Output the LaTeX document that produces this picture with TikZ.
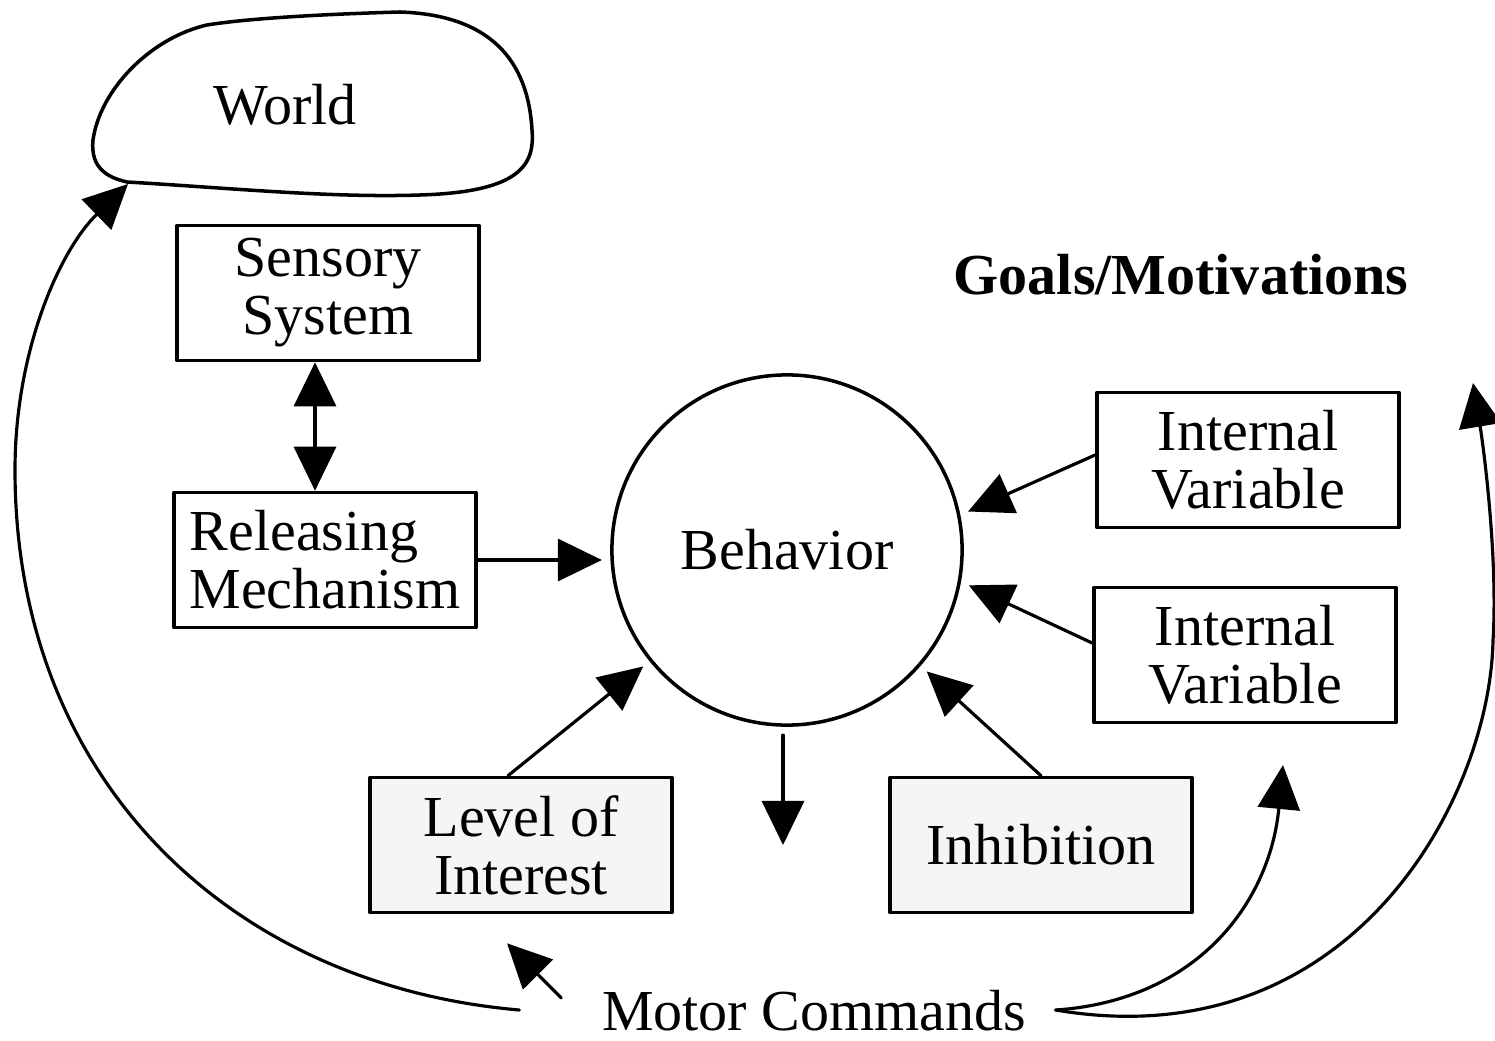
\documentclass[tikz,border=0pt]{standalone}
\usepackage{fontspec}
\setmainfont{Liberation Serif}
\usetikzlibrary{arrows.meta}
\definecolor{wqwqwq}{rgb}{0.96,0.96,0.96}

\begin{document}
\begin{tikzpicture}[x=0.01cm,y=-0.01cm,line cap=round,line join=round,>={Triangle[length=4.4mm,width=4.2mm]},
every node/.style={font=\fontsize{16.5}{16.5}\selectfont},
box/.style={draw,line width=1pt,minimum width=3.02cm,minimum height=1.35cm,inner sep=0pt,align=center},
link/.style={->,line width=0.9pt}]
\useasboundingbox (0,0) rectangle (1495,1040);
\draw[line width=1pt] (127,182) .. controls (230,188) and (330,198) .. (420,195) .. controls (520,192) and (535,165) .. (532,130) .. controls (528,60) and (490,15) .. (400,12) .. controls (330,14) and (250,18) .. (207,25) .. controls (150,38) and (100,90) .. (93,140) .. controls (90,170) and (110,178) .. (127,182) -- cycle;
\node (world) at (285,105) {World};
\coordinate (worldtip) at (128,184);
\node[box] (sensory) at (328,293) {Sensory\\System};
\node[box,align=left] (releasing) at (325,560) {Releasing\\Mechanism};
\node[draw,circle,line width=1pt,minimum size=3.5cm,outer sep=0.1cm] (behavior) at (787,550) {Behavior};
\node[box] (iv1) at (1248,460) {Internal\\Variable};
\node[box] (iv2) at (1245,655) {Internal\\Variable};
\node[box,fill=wqwqwq] (level) at (521,845) {Level of\\Interest};
\node[box,fill=wqwqwq] (inhibition) at (1041,845) {Inhibition};
\node[font=\fontsize{16.5}{16.5}\selectfont\bfseries] (goals) at (1181,275) {Goals/Motivations};
\node[inner sep=0pt] (motor) at (814,1011) {Motor Commands};
\coordinate (act) at (783,845);
\coordinate (ivtip) at (1283,765);
\coordinate (goaltip) at (1473,383);
\draw[link,<->] ([shift={(-13,0)}]sensory.south) -- ([shift={(-10,0)}]releasing.north);
\draw[link] (releasing.east) -- (releasing.east -| behavior.west);
\draw[link] ([shift={(0,-5)}]iv1.west) -- (behavior.12);
\draw[link] ([shift={(0,-12)}]iv2.west) -- (behavior.-11);
\draw[link] ([shift={(-13,0)}]level.north) -- (behavior.219);
\draw[link] (inhibition.north) -- (behavior.-41);
\draw[link] ([shift={(-4,0)}]behavior.south) -- (act);
\draw[link] ([shift={(-40,-13)}]motor.west) -- ([shift={(-14,29)}]level.south);
\draw[link] ([shift={(-82,-1)}]motor.west) .. controls (230,985) and (15,780) .. (15,470) .. controls (15,350) and (60,250) .. (worldtip);
\draw[link] ([shift={(29,-1)}]motor.east) .. controls (1200,1000) and (1270,900) .. (ivtip);
\draw[link] ([shift={(29,-1)}]motor.east) .. controls (1350,1060) and (1490,800) .. (1493,640) .. controls (1498,560) and (1484,450) .. (goaltip);
\end{tikzpicture}
\end{document}
